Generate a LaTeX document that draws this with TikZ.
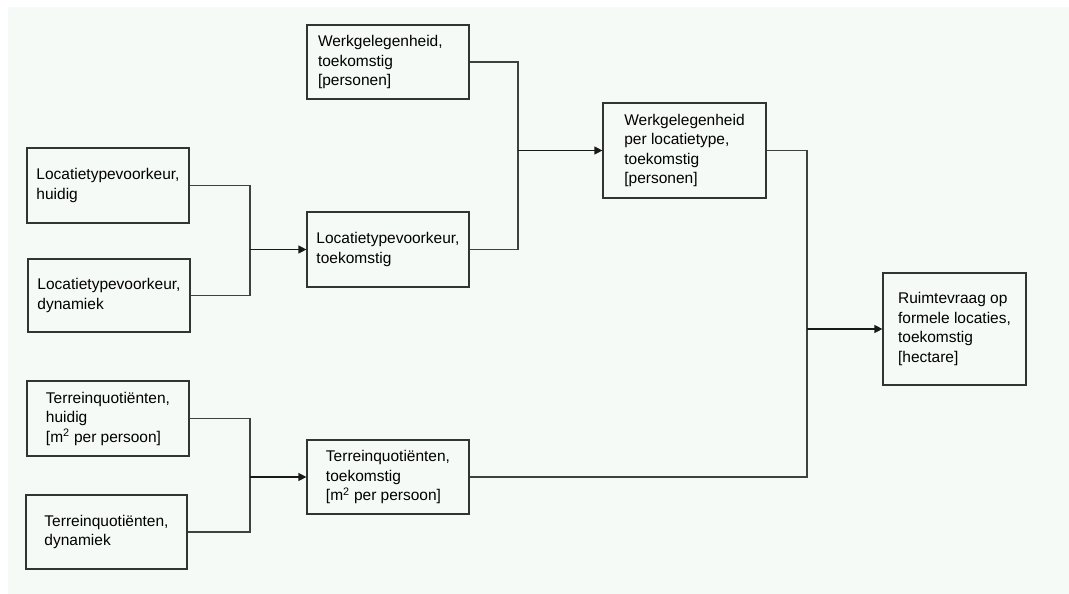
\documentclass[tikz,border=0pt]{standalone}
\usepackage{fontspec}
\setmainfont{Liberation Sans}
\usepackage{tikz}
\usetikzlibrary{arrows.meta}
\definecolor{achtergrond}{HTML}{F6FAF7}

\begin{document}
\begin{tikzpicture}[x=1pt, y=-1pt,
	blok/.style={draw=black!80, line width=1.2pt, align=left, minimum width=162pt, minimum height=75pt, text=black, font=\fontsize{15.5}{19.5}\selectfont},
	lijn/.style={draw=black!75, line width=1.2pt},
	pijl/.style={draw=black!90, line width=1.2pt, -{Triangle[length=8pt, width=8pt]}}]
	\useasboundingbox (0,0) rectangle (1069,594);
	\fill[achtergrond] (8,7) rectangle (1069,594);

	% werkgelegenheid
	\node[blok, text width=140pt, inner xsep=11pt, minimum height=74pt] (wt) at (388,62) {Werkgelegenheid,\\toekomstig\\{[personen]}};
	\node[blok, minimum width=163pt, minimum height=95pt] (wp) at (684.5,150.5) {Werkgelegenheid\\per locatietype,\\toekomstig\\{[personen]}};

	% locatietypevoorkeur
	\node[blok] (lh) at (108,185.5) {Locatietypevoorkeur,\\huidig};
	\node[blok, minimum height=73pt] (ld) at (109,295.5) {Locatietypevoorkeur,\\dynamiek};
	\node[blok] (lt) at (388,249.5) {Locatietypevoorkeur,\\toekomstig};

	% terreinquotienten
	\node[blok] (th) at (108,418.5) {Terreinquotiënten,\\huidig\\{[m\textsuperscript{2} per persoon]}};
	\node[blok, minimum width=161pt, minimum height=74pt] (td) at (106.5,532) {Terreinquotiënten,\\dynamiek};
	\node[blok, minimum height=74pt] (tt) at (388,477) {Terreinquotiënten,\\toekomstig\\{[m\textsuperscript{2} per persoon]}};

	% uitkomst
	\node[blok, minimum width=143pt, minimum height=112pt] (rv) at (954.5,329) {Ruimtevraag op\\formele locaties,\\toekomstig\\{[hectare]}};

	% knooppunten
	\coordinate (k1) at (250,249.5);
	\coordinate (k2) at (518,150.5);
	\coordinate (k3) at (250,477);
	\coordinate (k4) at (807,329);

	\draw[lijn] (lh.east) -| (k1) |- (ld.east);
	\draw[pijl] (k1) -- (lt.west);
	\draw[lijn] (wt.east) -| (k2) |- (lt.east);
	\draw[pijl] (k2) -- (wp.west);
	\draw[lijn] (th.east) -| (k3) |- (td.east);
	\draw[pijl] (k3) -- (tt.west);
	\draw[lijn] (wp.east) -| (k4) |- (tt.east);
	\draw[pijl] (k4) -- (rv.west);
\end{tikzpicture}
\end{document}
